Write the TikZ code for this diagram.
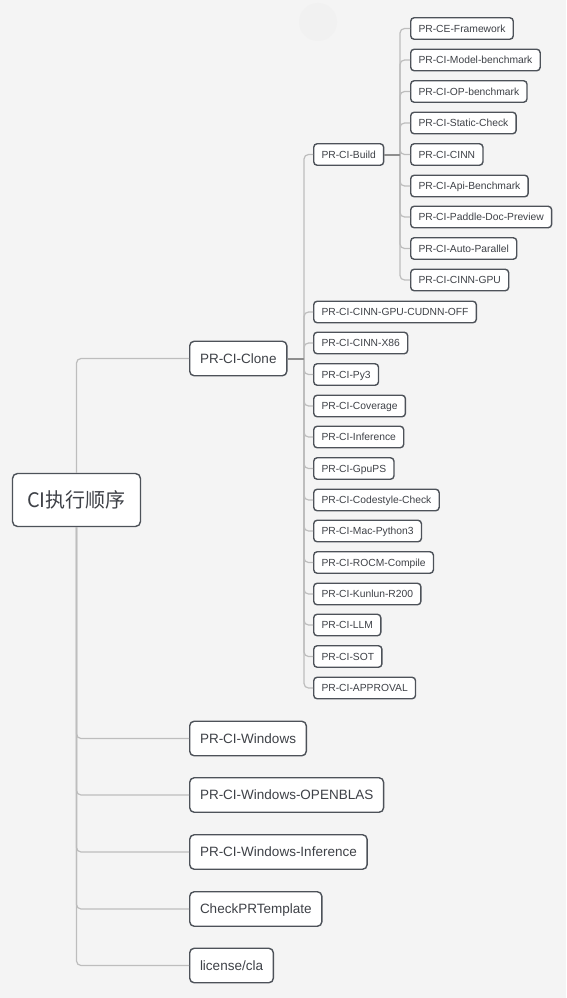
\documentclass[tikz,border=0pt]{standalone}
\usepackage{fontspec}
\setmainfont{Liberation Sans}
\newfontfamily\cjkfont{Noto Sans CJK SC}
\definecolor{bgc}{HTML}{F4F4F4}
\definecolor{bordc}{HTML}{4D5259}
\definecolor{txtc}{HTML}{3E4147}
\definecolor{linec}{HTML}{BDBDBD}
\definecolor{stubc}{HTML}{8E8E8E}
\definecolor{blobc}{HTML}{F1F1F1}
\begin{document}
\begin{tikzpicture}[x=1pt,y=-1pt,
  box/.style={draw=bordc, fill=white, line width=1.4pt, text=txtc, anchor=west},
  smallbox/.style={box, rounded corners=3.5pt, font=\fontsize{10.3}{12}\selectfont, inner xsep=7.8pt, inner ysep=0pt, minimum height=21.5pt, text height=7.4pt, text depth=0pt},
  bigbox/.style={box, rounded corners=4.5pt, font=\fontsize{13.5}{16}\selectfont, inner xsep=10.3pt, inner ysep=0pt, minimum height=34.5pt, text height=9.7pt, text depth=0pt},
  rootbox/.style={box, anchor=center, rounded corners=5pt, font=\cjkfont\fontsize{20}{24}\selectfont, inner xsep=12pt, inner ysep=0pt, minimum height=53pt, minimum width=128pt},
  conn/.style={draw=linec, line width=1.2pt, rounded corners=4.5pt},
  stub/.style={draw=stubc, line width=2pt}]
\useasboundingbox[fill=bgc] (0,0) rectangle (566,998);
\fill[blobc] (318,22) circle (19);

% root
\node[rootbox] (root) at (76.5,500) {CI执行顺序};

% level 1
\node[bigbox] (clone) at (189,358.5) {PR-CI-Clone};
\node[bigbox] (win) at (189,738.5) {PR-CI-Windows};
\node[bigbox] (openblas) at (189,795) {PR-CI-Windows-OPENBLAS};
\node[bigbox] (wininf) at (189,852) {PR-CI-Windows-Inference};
\node[bigbox] (check) at (189,909) {CheckPRTemplate};
\node[bigbox] (cla) at (189,965.5) {license/cla};

\draw[conn] (root.north) |- (clone.west);
\foreach \n in {win,openblas,wininf,check,cla}
  \draw[conn] (root.south) |- (\n.west);

% level 2
\coordinate (ct) at (304,358.5);
\node[smallbox] (build) at (313,154.5) {PR-CI-Build};
\foreach \n/\y/\t in {
  cudnn/312/PR-CI-CINN-GPU-CUDNN-OFF,
  x86/343/PR-CI-CINN-X86,
  py3/374.5/PR-CI-Py3,
  cov/406/PR-CI-Coverage,
  inf/437/PR-CI-Inference,
  gpups/468.5/PR-CI-GpuPS,
  code/500/PR-CI-Codestyle-Check,
  mac/531/PR-CI-Mac-Python3,
  rocm/562.5/PR-CI-ROCM-Compile,
  kun/594/PR-CI-Kunlun-R200,
  llm/625/PR-CI-LLM,
  sot/656.5/PR-CI-SOT,
  appr/688/PR-CI-APPROVAL}
{
  \node[smallbox] (\n) at (313,\y) {\t};
  \draw[conn] (ct) |- (\n.west);
}
\draw[conn] (ct) |- (build.west);
\draw[stub] (clone.east) -- (ct);

% level 3
\coordinate (bt) at (400,154.5);
\foreach \n/\y/\t in {
  fw/28.5/PR-CE-Framework,
  mb/60/PR-CI-Model-benchmark,
  opb/91.5/PR-CI-OP-benchmark,
  sc/123/PR-CI-Static-Check,
  cinn/154.5/PR-CI-CINN,
  api/186/PR-CI-Api-Benchmark,
  doc/217/PR-CI-Paddle-Doc-Preview,
  ap/248.5/PR-CI-Auto-Parallel,
  cgpu/280/PR-CI-CINN-GPU}
{
  \node[smallbox] (\n) at (410,\y) {\t};
  \draw[conn] (bt) |- (\n.west);
}
\draw[stub] (build.east) -- (bt);
\end{tikzpicture}
\end{document}
